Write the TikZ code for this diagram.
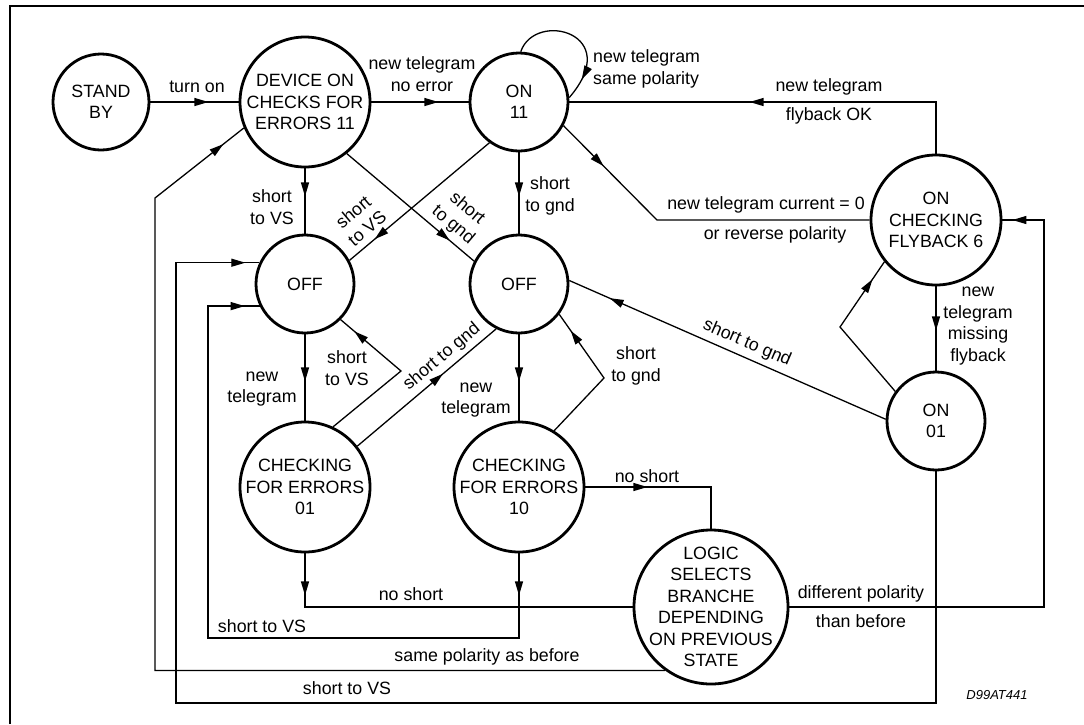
\documentclass[tikz,border=0pt]{standalone}
\usepackage{fontspec}
\setmainfont{Liberation Sans}
\usetikzlibrary{arrows.meta,decorations.markings}
\newcommand{\lblsize}{\fontsize{17.8}{21.5}\selectfont}
\tikzset{
  st/.style={circle,draw,line width=2.8pt,minimum size=#1,inner sep=0pt},
  stxt/.style={align=center,font=\lblsize,inner sep=0pt},
  con/.style={line width=1.3pt},
  arr/.style={postaction={decorate,decoration={markings,mark=at position #1 with {\arrow{Triangle[length=14pt,width=8pt]}}}}},
  lbl/.style={font=\lblsize,align=center,inner sep=0pt},
}
\begin{document}
\begin{tikzpicture}[x=1pt,y=-1pt]
\useasboundingbox (0,0) rectangle (1084,724);
\draw[line width=2pt] (10,724) -- (10,6) -- (1084,6);
% states
\node[st=96, label={[stxt]center:STAND\\BY}] (SB) at (101,102) {};
\node[st=130, label={[stxt]center:DEVICE ON\\CHECKS FOR\\ERRORS 11}] (DEV) at (305,102) {};
\node[st=98, label={[stxt]center:ON\\11}] (ON11) at (519,102) {};
\node[st=98, label={[stxt]center:OFF}] (OFFL) at (305,284) {};
\node[st=98, label={[stxt]center:OFF}] (OFFR) at (519,284) {};
\node[st=130, label={[stxt]center:CHECKING\\FOR ERRORS\\01}] (CH01) at (305,487) {};
\node[st=130, label={[stxt]center:CHECKING\\FOR ERRORS\\10}] (CH10) at (519,487) {};
\node[st=154, label={[stxt]center:LOGIC\\SELECTS\\BRANCHE\\DEPENDING\\ON PREVIOUS\\STATE}] (LOGIC) at (711,607) {};
\node[st=98, label={[stxt]center:ON\\01}] (ON01) at (936,421) {};
\node[st=130, label={[stxt]center:ON\\CHECKING\\FLYBACK 6}] (FLY) at (936,220) {};
% connectors
\draw[con,arr=58pt] (SB) -- (DEV);
\draw[con,arr=67pt] (DEV) -- (ON11);
\draw[con,arr=-22pt] (ON11.88) .. controls (535,10) and (625,33) .. (ON11.5);
\draw[con,arr=238pt] (FLY.north) |- (ON11.east);
\draw[con,arr=57pt] (ON11.-28) -- (657,220) -- (FLY.west);
\draw[con,arr=28pt] (DEV.south) -- (OFFL.north);
\draw[con,arr=-32pt] (DEV.-51) -- (OFFR.153);
\draw[con,arr=-33pt] (ON11.234) -- (OFFL.28);
\draw[con,arr=44pt] (ON11.south) -- (OFFR.north);
\draw[con,arr=47pt] (OFFL.south) -- (CH01.north);
\draw[con,arr=-18pt] (CH01.65) -- (401,371) -- (OFFL.-45);
\draw[con,arr=112pt] (CH01.38) -- (OFFR.243);
\draw[con,arr=47pt] (OFFR.south) -- (CH10.north);
\draw[con,arr=-20pt] (CH10.58) -- (604,378) -- (OFFR.-37);
\draw[con,arr=42pt] (CH01.south) |- (LOGIC.west);
\draw[con,arr=42pt,arr=-15pt] (CH10.south) |- (208,638) |- (OFFL.206);
\draw[con,arr=-26pt] (LOGIC.234) -| (155,198) -- (DEV.203);
\draw[con,arr=-14pt] (ON01.south) |- (176,703) |- (OFFL.155);
\draw[con,arr=-10pt] (LOGIC.east) -| (1044,220) -- (FLY.east);
\draw[con,arr=62pt] (CH10.east) -| (LOGIC.north);
\draw[con,arr=-21pt] (ON01.144) -- (840,327) -- (FLY.219);
\draw[con,arr=44pt] (FLY.south) -- (ON01.north);
\draw[con,arr=-44pt] (ON01.178) -- (OFFR.4);
% labels
\node[lbl] (lturnon) at (197,87) {turn on};
\node[lbl] (lnoerr) at (422,74) {new telegram\\no error};
\node[lbl,anchor=west,align=left] (lsame) at (593,69) {new telegram\\same polarity};
\node[lbl] (lfb1) at (829,87) {new telegram};
\node[lbl] (lfb2) at (829,116) {flyback OK};
\node[lbl] (lcur1) at (766,205) {new telegram current = 0};
\node[lbl] (lcur2) at (775,235) {or reverse polarity};
\node[lbl] (lvs1) at (272,207) {short\\to VS};
\node[lbl,rotate=40] (lvs2) at (360,220) {short\\to VS};
\node[lbl,rotate=-40] (lgnd1) at (460,217) {short\\to gnd};
\node[lbl] (lgnd2) at (550,196) {short\\to gnd};
\node[lbl] (lnt1) at (262,389) {new\\telegram};
\node[lbl] (lvs3) at (347,368) {short\\to VS};
\node[lbl,rotate=40] (lgnd3) at (442,357) {short to gnd};
\node[lbl] (lnt2) at (476,400) {new\\telegram};
\node[lbl] (lgnd4) at (636,366) {short\\to gnd};
\node[lbl] (lns1) at (411,594) {no short};
\node[lbl] (lvs4) at (262,626) {short to VS};
\node[lbl] (lsp) at (487,657) {same polarity as before};
\node[lbl] (lvs5) at (347,688) {short to VS};
\node[lbl] (lns2) at (647,476) {no short};
\node[lbl] (ldp1) at (861,594) {different polarity};
\node[lbl] (ldp2) at (861,621) {than before};
\node[lbl,rotate=-23.4] (lgnd5) at (747,343) {short to gnd};
\node[lbl] (lmiss) at (978,326) {new\\telegram\\missing\\flyback};
\node[font=\fontsize{13}{15}\selectfont\itshape,inner sep=0pt] (code) at (997,695) {D99AT441};
\end{tikzpicture}
\end{document}
